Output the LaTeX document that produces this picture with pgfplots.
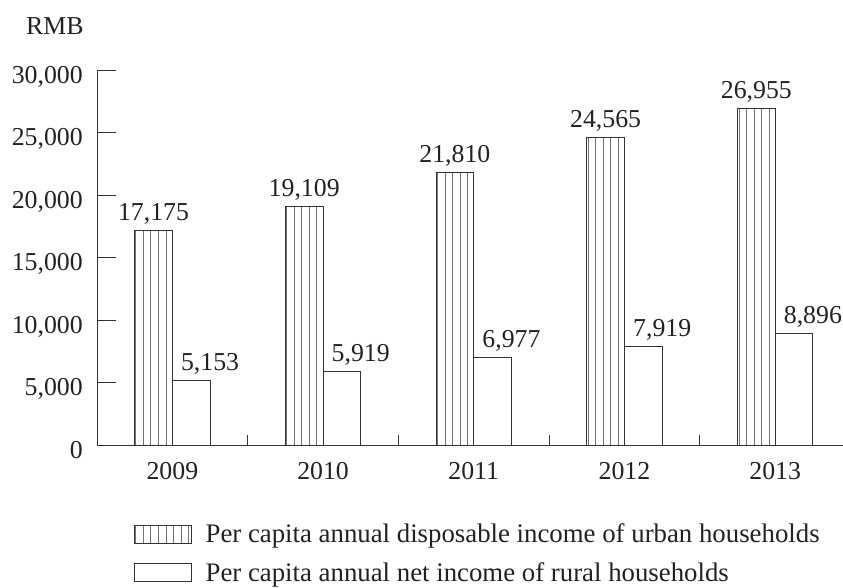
\documentclass[border=0pt]{standalone}
\usepackage{pgfplots}
\pgfplotsset{compat=1.18}
\usepackage{fontspec}
\setmainfont{Liberation Serif}
\usetikzlibrary{patterns.meta}
\definecolor{ink}{HTML}{222222}
\definecolor{edge}{HTML}{333333}
\newcommand\fs{\fontsize{25.8}{30}\selectfont}
\newcommand\fl{\fontsize{26.8}{30}\selectfont}

\begin{document}
\begin{tikzpicture}
\useasboundingbox (0,0) rectangle (843pt,587pt);
\begin{axis}[
    at={(97pt,142pt)}, anchor=south west,
    scale only axis,
    width=746pt, height=375pt,
    xmin=-0.5, xmax=4.45,
    ymin=0, ymax=30000,
    axis x line=bottom, axis y line=left,
    axis line style={-, draw=edge, line width=0.9pt},
    /pgf/number format/assume math mode=true,
    /pgf/number format/.cd, fixed, precision=0, 1000 sep={,},
    /pgfplots/.cd,
    scaled y ticks=false,
    ytick={0,5000,10000,15000,20000,25000,30000},
    xtick={0,1,2,3,4},
    xticklabels={2009,2010,2011,2012,2013},
    minor xtick={0.5,1.5,2.5,3.5},
    tick align=inside,
    major tick length=18.5pt,
    minor tick length=10pt,
    x tick style={draw=none},
    minor x tick style={draw=edge, line width=0.9pt},
    y tick style={draw=edge, line width=0.9pt},
    yticklabel style={font=\fs, text=ink, anchor=base east, inner sep=0pt, xshift=-14pt, yshift=-13.4pt},
    xticklabel style={font=\fs, text=ink, anchor=base, inner sep=0pt, yshift=-34pt},
    legend style={draw=none, fill=none, font=\fl, text=ink,
        at={(0.0496,-0.21)}, anchor=north west,
        row sep=18pt, inner sep=0pt,
        nodes={inner sep=0pt}},
    legend cell align=left,
    legend image code/.code={\draw[#1] (0pt,-9pt) rectangle (56.5pt,9pt); \path (70.5pt,0pt);},
]
\addplot[ybar, bar width=37.7pt, bar shift=-18.85pt,
    draw=edge, line width=0.9pt, fill=white,
    pattern={Lines[angle=90, distance=7.54pt, line width=0.7pt]},
    pattern color=gray!90!black,
    nodes near coords,
    nodes near coords style={font=\fs, text=ink, anchor=base, inner sep=0pt, yshift=10pt, xshift=-18.85pt}]
coordinates {(0,17175) (1,19109) (2,21810) (3,24565) (4,26955)};
\addlegendentry{Per capita annual disposable income of urban households}

\addplot[ybar, bar width=37.7pt, bar shift=18.85pt,
    draw=edge, line width=0.9pt, fill=white,
    nodes near coords,
    nodes near coords style={font=\fs, text=ink, anchor=base, inner sep=0pt, yshift=10pt, xshift=37.7pt}]
coordinates {(0,5153) (1,5919) (2,6977) (3,7919) (4,8896)};
\addlegendentry{Per capita annual net income of rural households}
\end{axis}
\node[font=\fs, text=ink, anchor=base west, inner sep=0pt] at (26pt,552pt) {RMB};
\end{tikzpicture}
\end{document}
